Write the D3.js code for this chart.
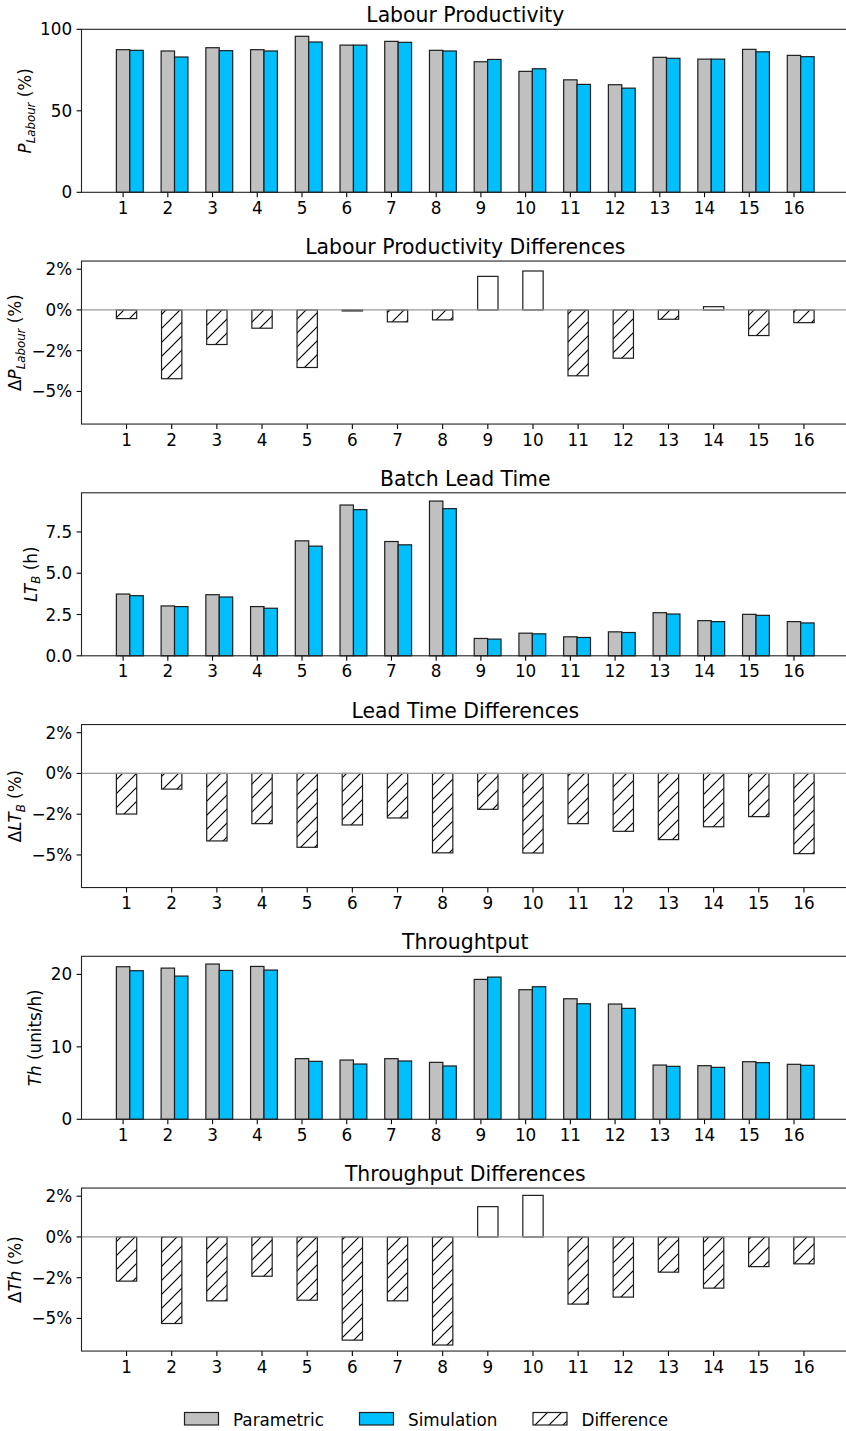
<!DOCTYPE html>
<html>
<head>
<meta charset="utf-8">
<script src="https://cdn.jsdelivr.net/npm/d3@7"></script>
<style>
  html, body { margin: 0; padding: 0; background: #fff; }
  svg { display: block; font-family: "DejaVu Sans", sans-serif; }
</style>
</head>
<body>
<svg id="chart" width="846" height="1431"></svg>
<script>
// Scenario numbers shown along every x axis
const categories = [1, 2, 3, 4, 5, 6, 7, 8, 9, 10, 11, 12, 13, 14, 15, 16];

// Labour productivity (%)
const labourParametric = [87.5, 86.7, 88.7, 87.5, 95.7, 90.3, 92.6, 87.1, 80.1, 74.2, 69.0, 66.0, 82.8, 81.7, 87.7, 84.0];
const labourSimulation = [87.1, 83.0, 86.9, 86.7, 92.2, 90.3, 92.0, 86.7, 81.5, 75.8, 66.2, 63.9, 82.2, 81.7, 86.2, 83.2];
const labourDifference = [-0.53, -4.22, -2.12, -1.12, -3.53, -0.06, -0.73, -0.61, 2.06, 2.39, -4.04, -2.96, -0.57, 0.2, -1.57, -0.78];

// Batch lead time (h)
const leadParametric = [3.74, 3.02, 3.70, 2.98, 6.96, 9.13, 6.92, 9.37, 1.05, 1.37, 1.15, 1.45, 2.61, 2.13, 2.51, 2.07];
const leadSimulation = [3.64, 2.98, 3.56, 2.88, 6.64, 8.85, 6.72, 8.91, 1.01, 1.33, 1.11, 1.41, 2.53, 2.07, 2.45, 1.99];
const leadDifference = [-2.49, -0.96, -4.14, -3.08, -4.53, -3.16, -2.73, -4.87, -2.2, -4.88, -3.08, -3.55, -4.06, -3.27, -2.65, -4.92];

// Throughput (units/h)
const throughParametric = [21.06, 20.87, 21.43, 21.10, 8.37, 8.18, 8.37, 7.86, 19.31, 17.89, 16.64, 15.91, 7.49, 7.40, 7.95, 7.59];
const throughSimulation = [20.51, 19.77, 20.55, 20.60, 8.0, 7.63, 8.05, 7.36, 19.63, 18.30, 15.95, 15.31, 7.31, 7.17, 7.82, 7.45];
const throughDifference = [-2.71, -5.31, -3.92, -2.41, -3.88, -6.33, -3.92, -6.63, 1.86, 2.55, -4.12, -3.69, -2.16, -3.14, -1.82, -1.65];

// Y ticks
const labourTicks = [0, 50, 100];
const leadTicks = [0, 2.5, 5, 7.5];
const leadTickLabels = ["0.0", "2.5", "5.0", "7.5"];
const throughTicks = [0, 10, 20];
const diffTicks = [2.5, 0, -2.5, -5];
const diffTickLabels = ["2%", "0%", "\u22122%", "\u22125%"];

const legendLabels = ["Parametric", "Simulation", "Difference"];

const colParam = "#c0c0c0";
const colSim = "#00bfff";
const edge = "#1e1e1e";

const svg = d3.select("#chart");
const left = 81.5, right = 849;
const panelTop0 = 29.3, panelStep = 231.75, panelH = 163;
const tickFont = 16.8, titleFont = 20.4;

// Hatch pattern for the difference bars
const defs = svg.append("defs");
const pat = defs.append("pattern")
  .attr("id", "hatch").attr("patternUnits", "userSpaceOnUse")
  .attr("width", 14).attr("height", 14);
pat.append("rect").attr("width", 14).attr("height", 14).attr("fill", "#fff");
pat.append("path")
  .attr("d", "M-2,2 L2,-2 M0,14 L14,0 M12,16 L16,12")
  .attr("stroke", "#000").attr("stroke-width", 1.15);

function yLabel(g, cx, cy, parts) {
  const t = g.append("text")
    .attr("transform", `translate(${cx},${cy}) rotate(-90)`)
    .attr("text-anchor", "middle")
    .attr("font-size", tickFont)
    .attr("fill", "#000");
  let shifted = 0;
  parts.forEach(p => {
    const ts = t.append("tspan").text(p.t);
    if (p.italic) ts.attr("font-style", "italic");
    if (p.sub) {
      ts.attr("font-size", tickFont * 0.7).attr("dy", 3.5);
      shifted += 3.5;
    } else if (shifted) {
      ts.attr("dy", -shifted);
      shifted = 0;
    }
  });
}

function frame(g, x, y, top, bottom, title, ticks, tickLabels) {
  // title
  g.append("text").attr("x", (left + right) / 2).attr("y", top - 7)
    .attr("text-anchor", "middle").attr("font-size", titleFont).attr("fill", "#000")
    .text(title);
  // y ticks
  ticks.forEach((v, i) => {
    const yy = y(v);
    g.append("line").attr("x1", left - 4.9).attr("x2", left).attr("y1", yy).attr("y2", yy)
      .attr("stroke", "#000").attr("stroke-width", 1.1);
    g.append("text").attr("x", left - 9.4).attr("y", yy).attr("dy", "0.36em")
      .attr("text-anchor", "end").attr("font-size", tickFont).attr("fill", "#000")
      .text(tickLabels[i]);
  });
  // x ticks
  categories.forEach(c => {
    const xx = x(c);
    g.append("line").attr("x1", xx).attr("x2", xx).attr("y1", bottom).attr("y2", bottom + 4.9)
      .attr("stroke", "#000").attr("stroke-width", 1.1);
    g.append("text").attr("x", xx).attr("y", bottom + 21.6)
      .attr("text-anchor", "middle").attr("font-size", tickFont).attr("fill", "#000")
      .text(c);
  });
  // spines
  g.append("rect").attr("x", left).attr("y", top).attr("width", right - left).attr("height", bottom - top)
    .attr("fill", "none").attr("stroke", "#222").attr("stroke-width", 1.1);
}

function valuePanel(idx, title, param, sim, yMax, ticks, tickLabels, label, labelX) {
  const top = panelTop0 + idx * panelStep, bottom = top + panelH;
  const g = svg.append("g");
  const x = d3.scaleLinear().domain([0.07, 17.23]).range([left, right]);
  const y = d3.scaleLinear().domain([0, yMax]).range([bottom, top]);
  const bw = x(0.3) - x(0);
  const rows = categories.map((c, i) => ({ c, p: param[i], s: sim[i] }));
  g.selectAll(".p").data(rows).enter().append("rect")
    .attr("x", d => x(d.c - 0.15)).attr("width", bw)
    .attr("y", d => y(d.p)).attr("height", d => y(0) - y(d.p))
    .attr("fill", colParam).attr("stroke", edge).attr("stroke-width", 1.2);
  g.selectAll(".s").data(rows).enter().append("rect")
    .attr("x", d => x(d.c + 0.15)).attr("width", bw)
    .attr("y", d => y(d.s)).attr("height", d => y(0) - y(d.s))
    .attr("fill", colSim).attr("stroke", edge).attr("stroke-width", 1.2);
  frame(g, x, y, top, bottom, title, ticks, tickLabels);
  yLabel(g, labelX, (top + bottom) / 2, label);
}

function diffPanel(idx, title, diff, label) {
  const top = panelTop0 + idx * panelStep, bottom = top + panelH;
  const g = svg.append("g");
  const x = d3.scaleLinear().domain([0.0025, 16.9975]).range([left, right]);
  const y = d3.scaleLinear().domain([-7, 3]).range([bottom, top]);
  const bw = x(0.45) - x(0);
  const rows = categories.map((c, i) => ({ c, d: diff[i] }));
  g.selectAll(".d").data(rows).enter().append("rect")
    .attr("x", d => x(d.c - 0.225)).attr("width", bw)
    .attr("y", d => y(Math.max(0, d.d))).attr("height", d => Math.abs(y(d.d) - y(0)))
    .attr("fill", d => d.d < 0 ? "url(#hatch)" : "#fff")
    .attr("stroke", edge).attr("stroke-width", 1.2);
  // zero reference line
  g.append("line").attr("x1", left).attr("x2", right).attr("y1", y(0)).attr("y2", y(0))
    .attr("stroke", "#9a9a9a").attr("stroke-width", 1.3);
  frame(g, x, y, top, bottom, title, diffTicks, diffTickLabels);
  yLabel(g, 21, (top + bottom) / 2, label);
}

valuePanel(0, "Labour Productivity", labourParametric, labourSimulation, 100,
  labourTicks, labourTicks.map(String),
  [{ t: "P", italic: true }, { t: "Labour", italic: true, sub: true }, { t: " (%)" }], 31);
diffPanel(1, "Labour Productivity Differences", labourDifference,
  [{ t: "\u0394" }, { t: "P", italic: true }, { t: "Labour", italic: true, sub: true }, { t: " (%)" }]);
valuePanel(2, "Batch Lead Time", leadParametric, leadSimulation, 9.87,
  leadTicks, leadTickLabels,
  [{ t: "LT", italic: true }, { t: "B", italic: true, sub: true }, { t: " (h)" }], 36.5);
diffPanel(3, "Lead Time Differences", leadDifference,
  [{ t: "\u0394" }, { t: "LT", italic: true }, { t: "B", italic: true, sub: true }, { t: " (%)" }]);
valuePanel(4, "Throughtput", throughParametric, throughSimulation, 22.5,
  throughTicks, throughTicks.map(String),
  [{ t: "Th", italic: true }, { t: " (units/h)" }], 40.5);
diffPanel(5, "Throughput Differences", throughDifference,
  [{ t: "\u0394" }, { t: "Th", italic: true }, { t: " (%)" }]);

// Legend
const legendFills = [colParam, colSim, "url(#hatch)"];
const legendX = [184.5, 359.5, 533];
const lg = svg.append("g");
legendLabels.forEach((name, i) => {
  lg.append("rect").attr("x", legendX[i]).attr("y", 1412.5).attr("width", 34).attr("height", 12.5)
    .attr("fill", legendFills[i]).attr("stroke", edge).attr("stroke-width", 1.2);
  lg.append("text").attr("x", legendX[i] + 48.5).attr("y", 1425.5)
    .attr("font-size", tickFont).attr("fill", "#000").text(name);
});
</script>
</body>
</html>
